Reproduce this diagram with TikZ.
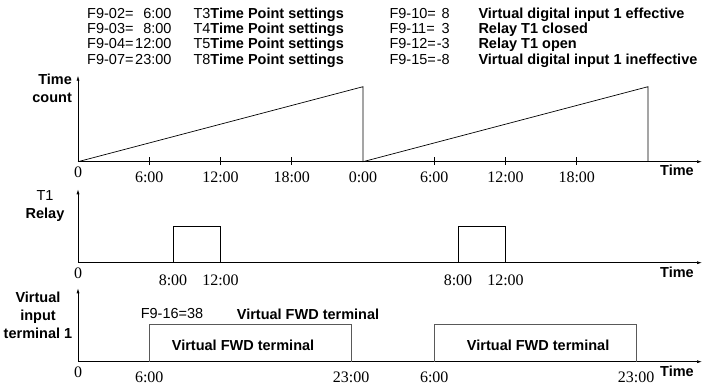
\documentclass[tikz,border=0pt]{standalone}
\usepackage{fontspec}
\setmainfont{Liberation Sans}
\newfontfamily\timesfont{Liberation Serif}
\usetikzlibrary{arrows.meta}

\tikzset{
  axis/.style={line width=0.7pt, -{Latex[length=5pt,width=3pt]}},
  sig/.style={line width=0.7pt},
  hdr/.style={anchor=base west, inner sep=0pt, font=\fontsize{14.5}{16}\selectfont},
  hdrval/.style={anchor=base east, inner sep=0pt, font=\fontsize{14.5}{16}\selectfont},
  hdrbf/.style={anchor=base west, inner sep=0pt, font=\bfseries\fontsize{14.5}{16}\selectfont},
  tlbl/.style={inner sep=0pt, font=\timesfont\fontsize{16}{17}\selectfont},
  ylbl/.style={inner sep=0pt, font=\bfseries\fontsize{14.5}{18}\selectfont},
}

\begin{document}
\begin{tikzpicture}[x=1pt,y=1pt]
  \useasboundingbox (0,0) rectangle (704,385);
  % Header settings
  \foreach \k/\yb/\pl/\vl/\tp/\pr/\vr/\txr in {
      1/366.7/F9-02=/6:00/T3/F9-10=/8/Virtual digital input 1 effective,
      2/351.7/F9-03=/8:00/T4/F9-11=/3/Relay T1 closed,
      3/336.5/F9-04=/12:00/T5/F9-12=/-3/Relay T1 open,
      4/320.5/F9-07=/23:00/T8/F9-15=/-8/Virtual digital input 1 ineffective} {
    \node[hdr] (lp\k) at (87,\yb) {\pl};
    \node[hdrval] (lv\k) at (171.7,\yb) {\vl};
    \node[hdr] (lt\k) at (193.3,\yb) {\tp\textbf{Time Point settings}};
    \node[hdr] (rp\k) at (389.3,\yb) {\pr};
    \node[hdrval] (rv\k) at (450,\yb) {\vr};
    \node[hdrbf] (rt\k) at (478.3,\yb) {\txr};
  }
  % Plot 1: time count
  \begin{scope}[shift={(78,223.3)}, x=11.875pt]
  \draw[axis] (0,0) -- (0,86);
  \draw[axis] (0,0) -- (52.55,0);
  \draw[sig] (0,0) -- (24,75) -- (24,0) -- (48,75) -- (48,0);
  \foreach \h in {6,12,18,30,36,42}
    \draw[sig] (\h,4.5) -- (\h,-3.5);
  \node[tlbl] (a0) at (0,-10.8) {0};
  \foreach \h/\t in {6/6:00,12/12:00,18/18:00,24/0:00,30/6:00,36/12:00,42/18:00}
    \node[tlbl] (a\h) at (\h,-16) {\t};
  \node[ylbl] (atime) at (50.44,-8.8) {Time};
  \node[ylbl, anchor=east, align=right] (acount) at (-0.5,73.2) {Time\\count};
  \end{scope}
  % Plot 2: relay T1
  \begin{scope}[shift={(78,122.3)}, x=11.875pt]
  \draw[axis] (0,0) -- (0,73.4);
  \draw[axis] (0,0) -- (52.55,0);
  \draw[sig] (8,0) -- (8,36.7) -- (12,36.7) -- (12,0);
  \draw[sig] (32,0) -- (32,36.7) -- (36,36.7) -- (36,0);
  \node[tlbl] (b0) at (0,-10.3) {0};
  \foreach \h/\t in {8/8:00,12/12:00,32/8:00,36/12:00}
    \node[tlbl] (b\h) at (\h,-17.3) {\t};
  \node[ylbl] (btime) at (50.44,-9.5) {Time};
  \node[ylbl, align=center] (brelay) at (-2.78,56.7) {\mdseries T1\\Relay};
  \end{scope}
  % Plot 3: virtual input terminal 1
  \begin{scope}[shift={(78,23.3)}, x=11.875pt]
  \draw[axis] (0,0) -- (0,73.4);
  \draw[axis] (0,0) -- (52.55,0);
  \draw[sig, black!65] (6,0) -- (6,37.4) -- (23,37.4) -- (23,0);
  \draw[sig, black!65] (30,0) -- (30,37.4) -- (47,37.4) -- (47,0);
  \node[tlbl] (c0) at (0,-11) {0};
  \foreach \h/\t in {6/6:00,23/23:00,30/6:00,47/23:00}
    \node[tlbl] (c\h) at (\h,-15.3) {\t};
  \node[ylbl] (ctime) at (50.44,-9.3) {Time};
  \node[ylbl, align=center] (cvin) at (-3.37,46.7) {Virtual\\input\\terminal 1};
  \node[ylbl, font=\mdseries\fontsize{14.5}{16}\selectfont] (cset) at (7.92,47.7) {F9-16=38};
  \node[ylbl] (cfwd) at (19.37,47.7) {Virtual FWD terminal};
  \node[ylbl] (cfwd1) at (13.9,16.7) {Virtual FWD terminal};
  \node[ylbl] (cfwd2) at (38.75,16.7) {Virtual FWD terminal};
  \end{scope}
\end{tikzpicture}
\end{document}
